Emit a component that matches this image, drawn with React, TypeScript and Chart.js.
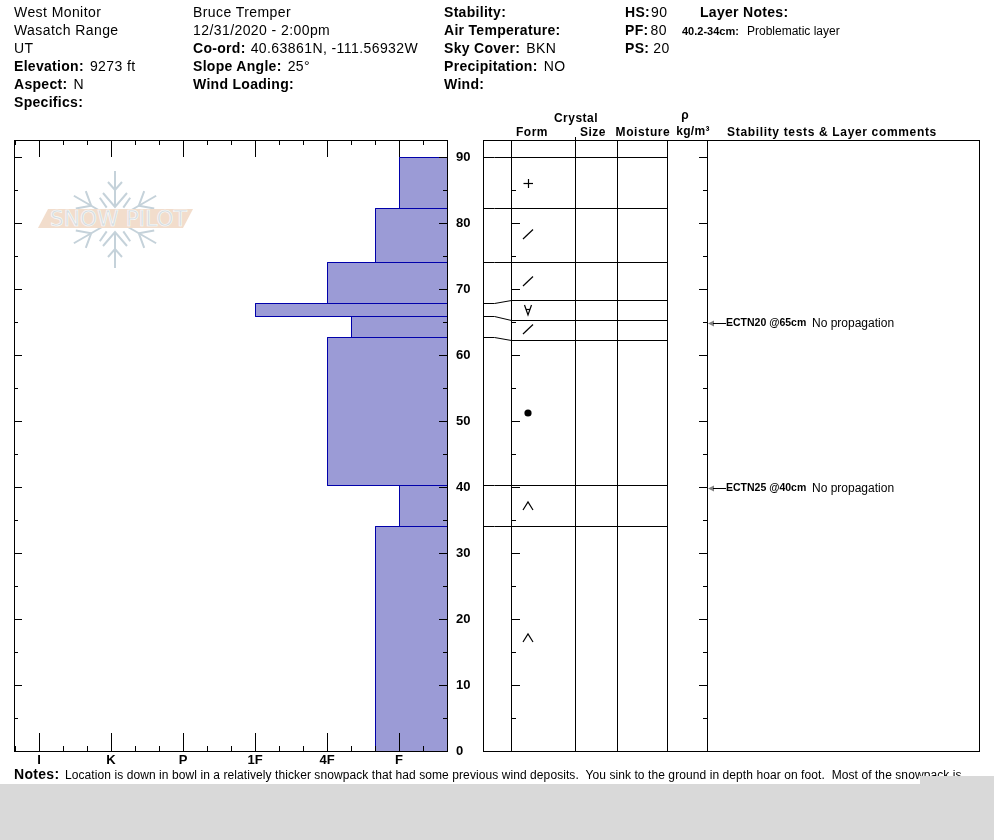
import React, { useEffect, useRef } from "react";
import { Chart, registerables } from "chart.js";

Chart.register(...registerables);

// ---------- data ----------
const layerTops = [90, 82.2, 74, 67.8, 65.8, 62.6, 40.2, 34];
const layerBottoms = [82.2, 74, 67.8, 65.8, 62.6, 40.2, 34, 0];
const layerHardness = [2, 3, 5, 8, 4, 5, 2, 3];
const hardnessTicks = [2, 5, 8, 11, 14, 17];
const hardnessLabels = ["F", "4F", "1F", "P", "K", "I"];
const hardnessMinorTicks = [1, 3, 4, 6, 7, 9, 10, 12, 13, 15, 16, 18];
const depthTicks = [0, 5, 10, 15, 20, 25, 30, 35, 40, 45, 50, 55, 60, 65, 70, 75, 80, 85, 90];
const boundaryReal = [90, 82.2, 74, 67.8, 65.8, 62.6, 40.2, 34];
const boundaryShown = [90, 82.2, 74, 68.3, 65.25, 62.2, 40.2, 34];
const formDepths = [86, 78.2, 71.2, 66.7, 63.8, 51.2, 37, 17];
const formGlyphs = ["plus", "slash", "slash", "forall", "slash", "dot", "caret", "caret"];
const testDepths = [65, 40];
const testCodes = ["ECTN20 @65cm", "ECTN25 @40cm"];
const testNotes = ["No propagation", "No propagation"];

type Seg = [string, boolean];
const infoRows: { x: number; y: number; parts: Seg[]; gap?: number }[] = [
  { x: 14, y: 12, parts: [["West Monitor", false]] },
  { x: 14, y: 30, parts: [["Wasatch Range", false]] },
  { x: 14, y: 48, parts: [["UT", false]] },
  { x: 14, y: 66, parts: [["Elevation:", true], ["9273 ft", false]] },
  { x: 14, y: 84, parts: [["Aspect:", true], ["N", false]] },
  { x: 14, y: 102, parts: [["Specifics:", true]] },
  { x: 193, y: 12, parts: [["Bruce Tremper", false]] },
  { x: 193, y: 30, parts: [["12/31/2020 - 2:00pm", false]] },
  { x: 193, y: 48, parts: [["Co-ord:", true], ["40.63861N, -111.56932W", false]], gap: 5 },
  { x: 193, y: 66, parts: [["Slope Angle:", true], ["25°", false]] },
  { x: 193, y: 84, parts: [["Wind Loading:", true]] },
  { x: 444, y: 12, parts: [["Stability:", true]] },
  { x: 444, y: 30, parts: [["Air Temperature:", true]] },
  { x: 444, y: 48, parts: [["Sky Cover:", true], ["BKN", false]] },
  { x: 444, y: 66, parts: [["Precipitation:", true], ["NO", false]] },
  { x: 444, y: 84, parts: [["Wind:", true]] },
  { x: 625, y: 12, parts: [["HS:", true], ["90", false]], gap: 1 },
  { x: 625, y: 30, parts: [["PF:", true], ["80", false]], gap: 2 },
  { x: 625, y: 48, parts: [["PS:", true], ["20", false]], gap: 4 },
  { x: 700, y: 12, parts: [["Layer Notes:", true]] },
];
const headerCells: [string, number, number, number][] = [
  ["Crystal", 576, 118, 0.5],
  ["Form", 532, 132, 0.45],
  ["Size", 593, 132, 0.45],
  ["Moisture", 643, 132, 0.6],
  ["ρ", 685, 115, 0],
  ["kg/m³", 693, 131, 0.3],
  ["Stability tests & Layer comments", 832, 132, 0.66],
];
const notesLabel = "Notes:";
const notesText =
  "Location is down in bowl in a relatively thicker snowpack that had some previous wind deposits.  You sink to the ground in depth hoar on foot.  Most of the snowpack is";

// ---------- layout ----------
const FONT = "'Liberation Sans', Arial, sans-serif";
const PX_PER_CM = 6.6;
const yMax = 611 / PX_PER_CM;
const xMax = 433 / 24;
const columnLines = [0, 28, 92, 134, 184, 224, 496];

const px = (v: number) => Math.floor(v + 1e-6);

const snapPlugin = {
  id: "snap",
  afterDatasetsUpdate(chart: any) {
    chart.data.datasets.forEach((ds: any, i: number) => {
      const half = ds.showLine === false ? 0 : 0.5;
      chart.getDatasetMeta(i).data.forEach((el: any) => {
        el.x = px(el.x) + half;
        el.y = px(el.y) + half;
      });
    });
  },
};

function line(ctx: CanvasRenderingContext2D, x0: number, y0: number, x1: number, y1: number) {
  ctx.beginPath();
  ctx.moveTo(x0, y0);
  ctx.lineTo(x1, y1);
  ctx.stroke();
}

const profileFrame = {
  id: "profileFrame",
  afterDraw(chart: any) {
    const { ctx, chartArea: a, scales } = chart;
    ctx.save();
    ctx.strokeStyle = "#000";
    ctx.lineWidth = 1;
    const l = a.left + 0.5, r = a.right + 0.5, t = a.top + 0.5, b = a.bottom + 0.5;
    ctx.strokeRect(l, t, r - l, b - t);
    hardnessTicks.forEach((v) => {
      const x = px(scales.x.getPixelForValue(v)) + 0.5;
      line(ctx, x, a.top, x, a.top + 17);
      line(ctx, x, a.bottom, x, a.bottom - 18);
    });
    hardnessMinorTicks.forEach((v) => {
      const x = px(scales.x.getPixelForValue(v)) + 0.5;
      line(ctx, x, a.top, x, a.top + 5);
      line(ctx, x, a.bottom, x, a.bottom - 5);
    });
    depthTicks.forEach((d) => {
      const y = px(scales.y.getPixelForValue(d)) + 0.5;
      const len = d % 10 === 0 ? 8 : 4;
      line(ctx, a.left, y, a.left + len, y);
      line(ctx, a.right, y, a.right - len, y);
    });
    ctx.restore();
  },
};

const detailFrame = {
  id: "detailFrame",
  afterDraw(chart: any) {
    const { ctx, chartArea: a, scales } = chart;
    ctx.save();
    ctx.strokeStyle = "#000";
    ctx.lineWidth = 1;
    const t = a.top + 0.5, b = a.bottom + 0.5;
    columnLines.forEach((c) => {
      const x = px(scales.x.getPixelForValue(c)) + 0.5;
      line(ctx, x, t, x, b);
    });
    const x0 = px(scales.x.getPixelForValue(columnLines[0]));
    const xEnd = px(scales.x.getPixelForValue(columnLines[6]));
    line(ctx, x0, t, xEnd + 1, t);
    line(ctx, x0, b, xEnd + 1, b);
    const cx = px(scales.x.getPixelForValue(columnLines[2])) + 0.5;
    line(ctx, cx, t, cx, a.top - 3);
    const xa = px(scales.x.getPixelForValue(columnLines[1]));
    const xb = px(scales.x.getPixelForValue(columnLines[5]));
    depthTicks.forEach((d) => {
      const y = px(scales.y.getPixelForValue(d)) + 0.5;
      const len = d % 10 === 0 ? 8 : 4;
      line(ctx, xa, y, xa + len + 1, y);
      line(ctx, xb, y, xb - len, y);
    });
    testDepths.forEach((d, i) => {
      const y = px(scales.y.getPixelForValue(d)) + 1.5;
      ctx.fillStyle = "#808080";
      ctx.beginPath();
      ctx.moveTo(xb + 1, y);
      ctx.lineTo(xb + 7, y - 3);
      ctx.lineTo(xb + 7, y + 3);
      ctx.closePath();
      ctx.fill();
      line(ctx, xb + 6, y, xb + 19, y);
      ctx.fillStyle = "#000";
      ctx.textBaseline = "middle";
      ctx.textAlign = "left";
      ctx.font = `bold 10.5px ${FONT}`;
      ctx.fillText(testCodes[i], xb + 19, y);
      ctx.font = `12px ${FONT}`;
      ctx.fillText(testNotes[i], xb + 105, y);
    });
    ctx.restore();
  },
};

function glyph(kind: string): HTMLCanvasElement {
  const c = document.createElement("canvas");
  c.width = 16;
  c.height = 16;
  const g = c.getContext("2d")!;
  g.strokeStyle = "#000";
  g.fillStyle = "#000";
  g.lineWidth = 1.2;
  if (kind === "plus") {
    line(g, 3.5, 8.5, 13, 8.5);
    line(g, 8.5, 4, 8.5, 13);
  } else if (kind === "slash") {
    line(g, 3, 13, 13, 3.5);
  } else if (kind === "caret") {
    g.beginPath();
    g.moveTo(3, 12);
    g.lineTo(8, 4);
    g.lineTo(13, 12);
    g.stroke();
  } else if (kind === "forall") {
    g.beginPath();
    g.moveTo(4.5, 3);
    g.lineTo(8, 13);
    g.lineTo(11.5, 3);
    g.stroke();
    line(g, 6, 7.5, 10, 7.5);
  } else {
    g.beginPath();
    g.arc(8, 8, 3.6, 0, Math.PI * 2);
    g.fill();
  }
  return c;
}

function Logo() {
  const arm = (a: number, key: number) => (
    <g key={key} transform={`rotate(${a} 115 219.5)`}>
      <line x1="115" y1="207" x2="115" y2="171" />
      <polyline points="103,193 115,207 127,193" />
      <polyline points="108,182 115,190 122,182" />
    </g>
  );
  return (
    <svg
      width={170}
      height={110}
      viewBox="30 165 170 110"
      style={{ position: "absolute", left: 30, top: 165 }}
    >
      <g stroke="#c5d2da" strokeWidth={2} fill="none">
        {[0, 180].map(arm)}
        {[60, 120, 240, 300].map((a, i) => (
          <g key={i} transform={`rotate(${a} 115 219.5)`}>
            <line x1="115" y1="205" x2="115" y2="172" />
            <polyline points="105,180 115,192 125,180" />
          </g>
        ))}
        {[35, -35, 145, -145].map((a, i) => (
          <line key={i} x1="115" y1="193" x2="115" y2="205" transform={`rotate(${a} 115 219.5)`} />
        ))}
      </g>
      <polygon points="38,228 48,209 193,209 183,228" fill="#f2ddcc" />
      <text
        x={50}
        y={226}
        textLength={137}
        lengthAdjust="spacingAndGlyphs"
        fontFamily="'DejaVu Sans', sans-serif"
        fontSize={21}
        fill="#d6dde1"
        stroke="#fbfcfc"
        strokeWidth={0.6}
      >
        SNOW PILOT
      </text>
    </svg>
  );
}

const abs = (x: number, y: number, extra: any = {}) => ({
  position: "absolute" as const,
  left: x,
  top: y - 9,
  height: 18,
  lineHeight: "18px",
  whiteSpace: "pre" as const,
  fontFamily: FONT,
  color: "#000",
  ...extra,
});

export default function App() {
  const leftRef = useRef<HTMLCanvasElement>(null);
  const rightRef = useRef<HTMLCanvasElement>(null);

  useEffect(() => {
    const profile = new Chart(leftRef.current!, {
      type: "line",
      data: {
        datasets: layerHardness.map((h, i) => ({
          label: `${layerTops[i]}-${layerBottoms[i]}`,
          data: [
            { x: 0, y: layerTops[i] },
            { x: h, y: layerTops[i] },
            { x: h, y: layerBottoms[i] },
            { x: 0, y: layerBottoms[i] },
          ],
          borderColor: "#0000aa",
          backgroundColor: "#9b9bd6",
          borderWidth: 1,
          pointRadius: 0,
          tension: 0,
          fill: "shape",
        })),
      } as any,
      options: {
        animation: false,
        responsive: false,
        devicePixelRatio: 1,
        layout: { padding: { left: 14, right: 0, top: 140, bottom: 0 } },
        plugins: { legend: { display: false }, tooltip: { enabled: false } },
        scales: {
          x: {
            type: "linear",
            reverse: true,
            min: 0,
            max: xMax,
            grid: { display: false, drawTicks: false },
            border: { display: false },
            afterBuildTicks(scale: any) {
              scale.ticks = hardnessTicks.map((value) => ({ value }));
            },
            afterFit(scale: any) {
              scale.height = 33;
            },
            ticks: {
              autoSkip: false,
              maxRotation: 0,
              padding: 2,
              color: "#000",
              font: { family: "'Liberation Sans'", size: 13, weight: "bold" },
              callback: (v: any) => hardnessLabels[hardnessTicks.indexOf(v)],
            },
          },
          y: {
            type: "linear",
            position: "right",
            min: 0,
            max: yMax,
            grid: { display: false, drawTicks: false },
            border: { display: false },
            afterBuildTicks(scale: any) {
              scale.ticks = depthTicks.filter((d) => d % 10 === 0).map((value) => ({ value }));
            },
            afterFit(scale: any) {
              scale.width = 33;
            },
            ticks: {
              padding: 9,
              color: "#000",
              font: { family: "'Liberation Sans'", size: 13, weight: "bold" },
            },
          },
        },
      } as any,
      plugins: [snapPlugin, profileFrame],
    });

    const rowDatasets = boundaryReal.map((real, i) => ({
      label: `boundary ${real}`,
      data: [
        { x: columnLines[0], y: real },
        { x: 11, y: real },
        { x: columnLines[1], y: boundaryShown[i] },
        { x: columnLines[4], y: boundaryShown[i] },
      ],
      borderColor: "#000",
      borderWidth: 1,
      pointRadius: 0,
      tension: 0,
      fill: false,
    }));
    const formDataset = {
      label: "Form",
      data: formDepths.map((y) => ({ x: 45, y })),
      showLine: false,
      pointRadius: 8,
      pointStyle: formGlyphs.map(glyph),
    };

    const detail = new Chart(rightRef.current!, {
      type: "line",
      data: { datasets: [...rowDatasets, formDataset] } as any,
      options: {
        animation: false,
        responsive: false,
        devicePixelRatio: 1,
        layout: { padding: { left: 13, right: 15, top: 140, bottom: 33 } },
        plugins: { legend: { display: false }, tooltip: { enabled: false } },
        scales: {
          x: { type: "linear", display: false, min: 0, max: 496 },
          y: { type: "linear", display: false, min: 0, max: yMax },
        },
      } as any,
      plugins: [snapPlugin, detailFrame],
    });

    return () => {
      profile.destroy();
      detail.destroy();
    };
  }, []);

  return (
    <div
      style={{
        position: "absolute",
        left: 0,
        top: 0,
        width: 994,
        height: 840,
        overflow: "hidden",
        background: "#ffffff",
      }}
    >
      <Logo />
      <canvas ref={leftRef} width={480} height={784} style={{ position: "absolute", left: 0, top: 0 }} />
      <canvas ref={rightRef} width={524} height={784} style={{ position: "absolute", left: 470, top: 0 }} />

      {infoRows.map((r, i) => (
        <div key={i} style={abs(r.x, r.y, { fontSize: 14, letterSpacing: 0.3 })}>
          {r.parts.map(([t, bold], j) => (
            <span
              key={j}
              style={{
                fontWeight: bold ? 700 : 400,
                marginLeft: j ? r.gap ?? 6 : 0,
                letterSpacing: bold ? 0.3 : 0.42,
              }}
            >
              {t}
            </span>
          ))}
        </div>
      ))}
      <div style={abs(682, 31, { fontSize: 11, fontWeight: 700 })}>40.2-34cm:</div>
      <div style={abs(747, 31, { fontSize: 12 })}>Problematic layer</div>

      {headerCells.map(([t, cx, cy, ls], i) => (
        <div
          key={i}
          style={abs(cx, cy, { fontSize: 12, fontWeight: 700, transform: "translateX(-50%)", letterSpacing: ls })}
        >
          {t}
        </div>
      ))}

      <div style={abs(14, 774, { fontSize: 14, fontWeight: 700, letterSpacing: 0.3 })}>{notesLabel}</div>
      <div style={abs(65, 775, { fontSize: 12, letterSpacing: 0.08 })}>{notesText}</div>

      <div style={{ position: "absolute", left: 0, top: 784, width: 994, height: 56, background: "#d9d9d9" }} />
      <div style={{ position: "absolute", left: 920, top: 776, width: 74, height: 8, background: "#d9d9d9" }} />
    </div>
  );
}
